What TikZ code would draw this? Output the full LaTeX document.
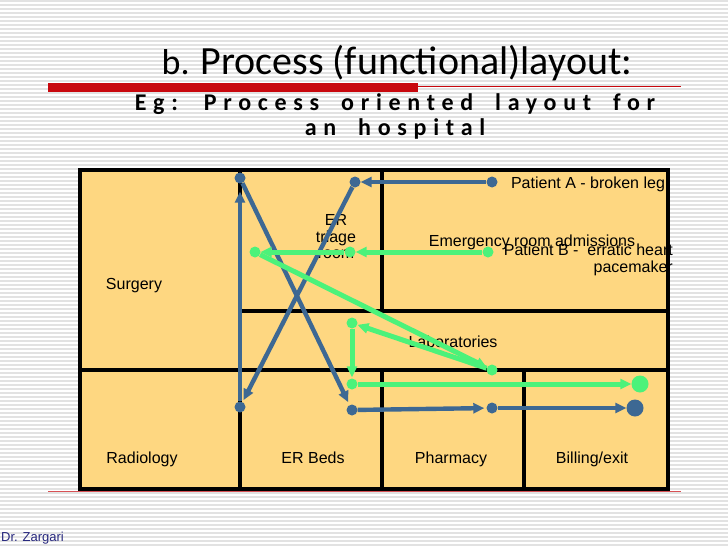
\documentclass[tikz,border=0pt]{standalone}
\usepackage{fontspec}
\setmainfont{Liberation Sans}
\newfontfamily\titlefont{Carlito}
\newfontfamily\spacedfont[LetterSpace=28,WordSpace=1.8]{Carlito}
\usetikzlibrary{arrows.meta}
\definecolor{cellfill}{HTML}{FED781}
\definecolor{pathblue}{HTML}{3D6893}
\definecolor{pathgreen}{HTML}{4CF27A}
\definecolor{slidered}{HTML}{C8080E}
\definecolor{stripe}{HTML}{E2E2E2}
\definecolor{signature}{HTML}{27287E}
\tikzset{
  room/.style={font=\fontsize{16}{18}\selectfont, inner sep=0pt, anchor=base},
  bdot/.style={circle, fill=pathblue, inner sep=0pt, minimum size=11pt},
  gdot/.style={circle, fill=pathgreen, inner sep=0pt, minimum size=11pt},
  bigdot/.style={minimum size=17pt},
  bpath/.style={draw=pathblue, line width=4.4pt, -{Triangle[length=11pt,width=10pt]}},
  gpath/.style={draw=pathgreen, line width=5pt, -{Triangle[length=11pt,width=10pt]}}
}
\begin{document}
\begin{tikzpicture}[x=1pt, y=-1pt]
  \useasboundingbox (0,0) rectangle (728,546);
  % slide background
  \fill[white] (0,0) rectangle (728,546);
  \foreach \y in {1,5,...,545}
    \draw[stripe, line width=1.3pt] (0,\y) -- (728,\y);
  \fill[slidered] (48,83) rectangle (418,92);
  \draw[slidered, line width=0.8pt] (418,86) -- (681,86);
  \draw[slidered!70, line width=0.8pt] (48,491) -- (681,491);

  % titles
  \node(Title) at (397,63) {\titlefont\fontsize{36}{40}\selectfont b.
    \fontsize{40}{44}\selectfont Process (functional)layout:};
  \node(Sub) at (395,116) [align=center, font=\spacedfont\bfseries\fontsize{24}{25}\selectfont]
    {Eg: Process oriented layout for\\an hospital};

  % floor plan
  \fill[cellfill] (80,170) rectangle (668,489);
  \begin{scope}[line width=3.2pt]
    \draw (80,170) rectangle (668,489);
    \draw (240,170) -- (240,489) (80,370) -- (668,370) (240,311) -- (668,311);
    \draw (382,170) -- (382,311) (382,370) -- (382,489) (524,370) -- (524,489);
  \end{scope}

  \node(Surgery)  [room] at (134,289) {Surgery};
  \node(Triage)   [room, anchor=center, align=center, font=\fontsize{16}{16.5}\selectfont]
    at (336,237) {ER\\triage\\room};
  \node(Admit)    [room] at (532,246) {Emergency room admissions};
  \node(Labs)     [room] at (453,347) {Laboratories};
  \node(Radio)    [room] at (142,463) {Radiology};
  \node(Beds)     [room] at (313,463) {ER Beds};
  \node(Pharmacy) [room] at (451,463) {Pharmacy};
  \node(Billing)  [room] at (592,463) {Billing/exit};
  \node(PatA)     [room] at (588,188) {Patient A - broken leg};
  \node(PatB)     [room, align=right, anchor=north east, font=\fontsize{16}{17}\selectfont]
    at (673,244) {Patient B -\ \ erratic heart\\pacemaker};

  % patient A
  \node(A0) [bdot] at (492,182) {};
  \node(A1) [bdot] at (355,182) {};
  \node(A2) [bdot] at (240,407) {};
  \node(A3) [bdot] at (240,178) {};
  \node(A4) [bdot] at (352,410) {};
  \node(A5) [bdot] at (492,408) {};
  \node(A6) [bdot, bigdot] at (635,408) {};

  \draw[bpath] (A0) -- (A1);
  \draw[bpath, shorten >=2pt] (A1) -- (A2);
  \draw[bpath, shorten >=8pt] (A2) -- (A3);
  \draw[bpath, shorten >=3pt] (A3) -- (A4);
  \draw[bpath, shorten >=2pt] (A4) -- (A5);
  \draw[bpath] (A5) -- (A6);

  % patient B
  \node(B0) [gdot] at (488,252) {};
  \node(B1) [gdot] at (350,252) {};
  \node(B2) [gdot] at (255,252) {};
  \node(B3) [gdot] at (492,370) {};
  \node(B4) [gdot] at (352,323) {};
  \node(B5) [gdot] at (352,384) {};
  \node(B6) [gdot, bigdot] at (640,384) {};

  \draw[gpath] (B0) -- (B1);
  \draw[gpath] (B1) -- (B2);
  \draw[gpath] (B2) -- (B3);
  \draw[gpath] (B3) -- (B4);
  \draw[gpath, shorten >=1pt] (B4) -- (B5);
  \draw[gpath] (B5) -- (B6);

  \node(Sign) [anchor=base west, inner sep=0pt, text=signature, font=\fontsize{13}{15}\selectfont]
    at (1,541) {Dr. Zargari};
\end{tikzpicture}
\end{document}
